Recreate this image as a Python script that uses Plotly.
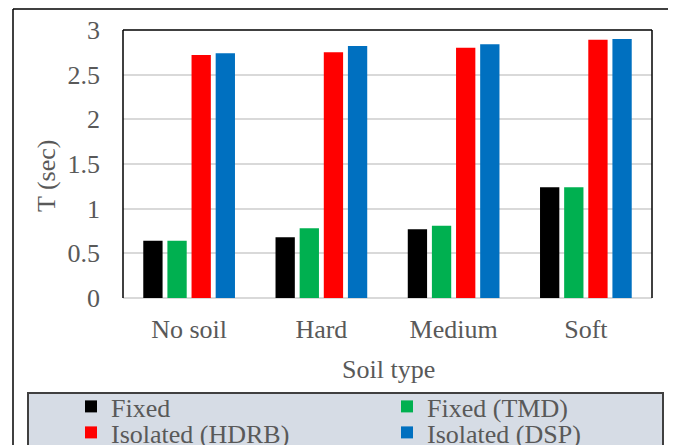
import plotly.graph_objects as go

categories = ["No soil", "Hard", "Medium", "Soft"]
series_names = ["Fixed", "Fixed (TMD)", "Isolated (HDRB)", "Isolated (DSP)"]
fixed = [0.64, 0.68, 0.77, 1.24]
fixed_tmd = [0.64, 0.78, 0.81, 1.24]
isolated_hdrb = [2.72, 2.75, 2.80, 2.89]
isolated_dsp = [2.74, 2.82, 2.84, 2.90]
colors = ["#000000", "#00b050", "#ff0000", "#0070c0"]
legend_rows = ["legend", "legend", "legend2", "legend2"]
y_ticks = [0, 0.5, 1, 1.5, 2, 2.5, 3]
y_tick_labels = ["0", "0.5", "1", "1.5", "2", "2.5", "3"]

FONT = "Liberation Serif"
GRAY = "#595959"
FS = 26

fig = go.Figure()
for name, vals, col, lg in zip(series_names, [fixed, fixed_tmd, isolated_hdrb, isolated_dsp], colors, legend_rows):
    fig.add_trace(go.Bar(x=categories, y=vals, name=name, legend=lg,
                         marker=dict(color=col, line=dict(width=0))))

# page offset (body margin) compensation
OFF = 8
W, H = 676 - OFF, 445 - OFF
# plot area in screen pixels: x 123..652, y 30..298
L, T = 123 - OFF, 30 - OFF
R = W - (652 - OFF)
B = H - (298 - OFF)
pw, ph = W - L - R, H - T - B

def px(xs):
    return (xs - OFF - L) / pw

def py(ys):
    return (H - B - (ys - OFF)) / ph

BL = dict(color="#000000", width=1.5)
shapes = [
    dict(type="line", xref="paper", yref="paper", x0=px(13), x1=px(13), y0=py(9), y1=py(470), line=BL),
    dict(type="line", xref="paper", yref="paper", x0=px(672), x1=px(672), y0=py(9), y1=py(470), line=BL),
    dict(type="line", xref="paper", yref="paper", x0=px(13), x1=px(672), y0=py(9), y1=py(9), line=BL),
    dict(type="rect", xref="paper", yref="paper", x0=px(28), x1=px(663), y0=py(470), y1=py(393),
         line=dict(color="#404040", width=2), fillcolor="#d6dce5", layer="below"),
    dict(type="line", xref="paper", yref="paper", x0=0, x1=0, y0=0, y1=1, line=BL),
    dict(type="line", xref="paper", yref="paper", x0=0, x1=1, y0=1, y1=1, line=BL),
    dict(type="line", xref="paper", yref="paper", x0=1, x1=1, y0=0, y1=1, line=BL),
]

annotations = [
    dict(text="T (sec)", xref="paper", yref="paper", x=px(46), y=py(176), showarrow=False, textangle=-90,
         font=dict(family=FONT, size=FS, color=GRAY), xanchor="center", yanchor="middle"),
    dict(text="Soil type", xref="paper", yref="paper", x=px(388), y=py(369), showarrow=False,
         font=dict(family=FONT, size=FS, color=GRAY), xanchor="center", yanchor="middle"),
]

legend_common = dict(orientation="h", xanchor="left", yanchor="top",
                     entrywidth=271, entrywidthmode="pixels", bgcolor="rgba(0,0,0,0)",
                     font=dict(family=FONT, size=FS, color=GRAY), traceorder="normal",
                     itemclick=False, tracegroupgap=0)

fig.update_layout(
    width=W, height=H,
    margin=dict(l=L, r=R, t=T, b=B, pad=0, autoexpand=False),
    paper_bgcolor="white", plot_bgcolor="white",
    barmode="group", bargap=0.27, bargroupgap=0.2,
    font=dict(family=FONT, size=FS, color=GRAY),
    shapes=shapes, annotations=annotations,
    showlegend=True,
    legend=dict(x=px(71), y=py(383), **legend_common),
    legend2=dict(x=px(71), y=py(409), **legend_common),
    xaxis=dict(showline=False, showgrid=False, ticks="", tickfont=dict(family=FONT, size=FS, color=GRAY),
               ticklabelstandoff=13),
    yaxis=dict(range=[0, 3], tickvals=y_ticks, ticktext=y_tick_labels, showgrid=True, gridcolor="#d9d9d9",
               gridwidth=1.5, zeroline=True, zerolinecolor="#d9d9d9", zerolinewidth=1.5, showline=False,
               ticks="", tickfont=dict(family=FONT, size=FS, color=GRAY), ticklabelstandoff=22),
)

fig.write_html("out.html")
